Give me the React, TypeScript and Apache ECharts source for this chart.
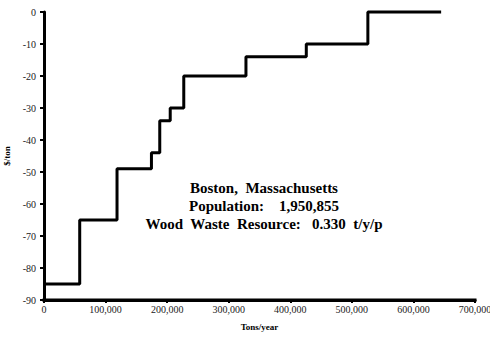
import React, { useEffect, useRef } from "react";
import * as echarts from "echarts";

const breakTons = [0, 58000, 118600, 174500, 188000, 205000, 227000, 328000, 426000, 526000];
const costPerTon = [-85, -65, -49, -44, -34, -30, -20, -14, -10, 0];
const endTons = 645000;
const titleLines = [
  "Boston,  Massachusetts",
  "Population:    1,950,855",
  "Wood  Waste  Resource:   0.330  t/y/p",
];

export default function App() {
  const ref = useRef<HTMLDivElement>(null);
  useEffect(() => {
    if (!ref.current) return;
    const chart = echarts.init(ref.current, null, { renderer: "svg" });
    const data = breakTons.map((x, i) => [x, costPerTon[i]]);
    data.push([endTons, costPerTon[costPerTon.length - 1]]);
    const font = "'Liberation Serif', 'Times New Roman', serif";
    const yMin = -90;
    const graphics: any[] = titleLines.map((t, i) => ({
      type: "text",
      x: 264,
      y: 180 + i * 18,
      style: {
        text: t,
        fontFamily: font,
        fontWeight: "bold",
        fontSize: 15,
        fill: "#000",
        align: "center",
        verticalAlign: "top",
      },
    }));
    graphics.push({
      type: "polyline",
      z: 100,
      shape: { points: [[42.5, 300], [476.5, 300]] },
      style: { stroke: "#000", lineWidth: 3, fill: null },
    });
    chart.setOption({
      animation: false,
      backgroundColor: "#fff",
      grid: { left: 44, right: 15, top: 12, bottom: 39, containLabel: false, outerBoundsMode: "none" },
      xAxis: [
        {
          type: "value",
          position: "bottom",
          min: 0,
          max: 700000,
          interval: 100000,
          name: "Tons/year",
          nameLocation: "middle",
          nameGap: 22,
          nameTextStyle: { fontFamily: font, fontWeight: "bold", fontSize: 9, color: "#000" },
          axisLine: { show: true, onZero: false, lineStyle: { color: "#000", width: 3 } },
          axisTick: { show: true, length: 3, lineStyle: { color: "#000", width: 2 } },
          splitLine: { show: false },
          axisLabel: {
            fontFamily: font,
            fontSize: 10,
            color: "#222",
            margin: 4,
            formatter: (v: number) => v.toLocaleString("en-US"),
          },
        },
      ],
      yAxis: {
        type: "value",
        position: "left",
        min: yMin,
        max: 0,
        interval: 10,
        name: "$/ton",
        nameLocation: "middle",
        nameGap: 26,
        nameRotate: 90,
        nameTextStyle: { fontFamily: font, fontWeight: "bold", fontSize: 9, color: "#000" },
        axisLine: { show: true, onZero: false, lineStyle: { color: "#000", width: 3 } },
        axisTick: { show: true, length: 4, lineStyle: { color: "#000", width: 2 } },
        splitLine: { show: false },
        axisLabel: { fontFamily: font, fontSize: 10, color: "#222", margin: 8 },
      },
      series: [
        {
          type: "line",
          step: "end",
          data,
          showSymbol: false,
          symbol: "none",
          clip: false,
          lineStyle: { color: "#000", width: 3 },
          z: 3,
        },
      ],
      graphic: graphics,
    });
    return () => chart.dispose();
  }, []);
  return <div ref={ref} style={{ width: 490, height: 339, position: "absolute", left: 0, top: 0 }} />;
}
